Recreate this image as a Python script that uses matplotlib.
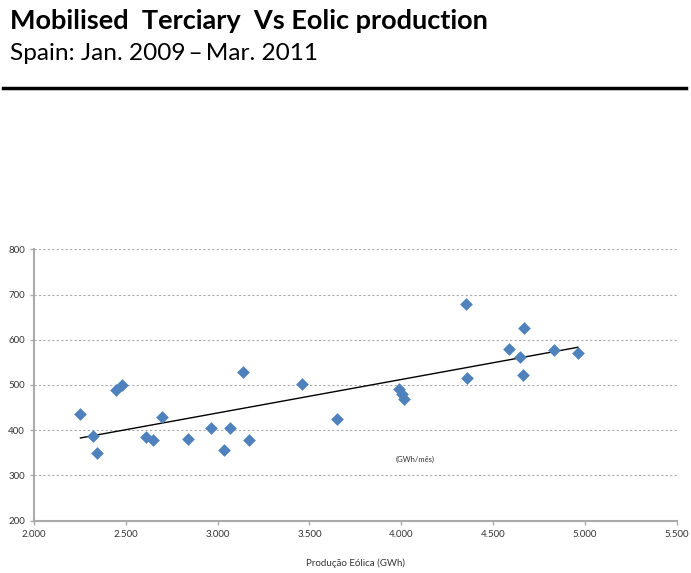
import matplotlib.pyplot as plt
import numpy as np
from matplotlib.ticker import FuncFormatter

# Produção eólica (GWh) vs terciária mobilizada (GWh/mês), Jan. 2009 - Mar. 2011
eolica = [2253, 2322, 2344, 2449, 2480, 2609, 2647, 2696, 2837, 2964,
          3035, 3066, 3140, 3173, 3460, 3650, 3990, 4004, 4013, 4354,
          4358, 4585, 4648, 4670, 4665, 4830, 4962]
terciaria = [436, 387, 350, 489, 501, 385, 378, 430, 380, 406,
             357, 405, 529, 378, 502, 424, 491, 481, 469, 678,
             515, 579, 561, 627, 523, 577, 570]

x = np.array(eolica)
y = np.array(terciaria)

fig = plt.figure(figsize=(6.91, 5.73), dpi=100)
plt.rcParams['font.family'] = ['Lato', 'DejaVu Sans']

# titulos
fig.text(10/691, 1-21/573, "Mobilised  Terciary  Vs Eolic production", fontsize=19.5,
         fontweight='bold', va='center', ha='left')
fig.text(10/691, 1-53/573, "Spain: Jan. 2009\u2009\u2013\u2009Mar. 2011", fontsize=17.6,
         va='center', ha='left')
fig.add_artist(plt.Line2D([3/691, 686/691], [1-88/573, 1-88/573], color='black', lw=2.5))

ax = fig.add_axes([34/691, 1-520.7/573, (676.7-34)/691, (520.7-249.3)/573])
ax.scatter(x, y, marker='D', s=42, color='#4F81BD', zorder=3, linewidths=0)

# linha de tendencia
a, b = np.polyfit(x, y, 1)
xt = np.array([x.min(), x.max()])
ax.plot(xt, a*xt + b, color='black', lw=1, zorder=2)

ax.set_xlim(2000, 5500)
ax.set_ylim(200, 800)
ax.set_xticks(np.arange(2000, 5501, 500))
ax.set_yticks(np.arange(200, 801, 100))
ax.xaxis.set_major_formatter(FuncFormatter(lambda v, p: f"{v/1000:.3f}"))
ax.yaxis.grid(True, linestyle=(0, (2, 2)), color='#aaaaaa', lw=0.8)
for s in ['top', 'right']:
    ax.spines[s].set_visible(False)
for s in ['left', 'bottom']:
    ax.spines[s].set_color('#aaaaaa')
    ax.spines[s].set_linewidth(1.5)
ax.tick_params(labelsize=7, colors='#aaaaaa', labelcolor='#333333', length=3, width=1)
ax.set_xlabel("Produção Eólica (GWh)", fontsize=7, color='#333333', labelpad=14)
ax.text(4077, 336, "(GWh/mês)", fontsize=5.5, ha='center', va='center', color='#333333')

fig.savefig("out.png", dpi=100)
